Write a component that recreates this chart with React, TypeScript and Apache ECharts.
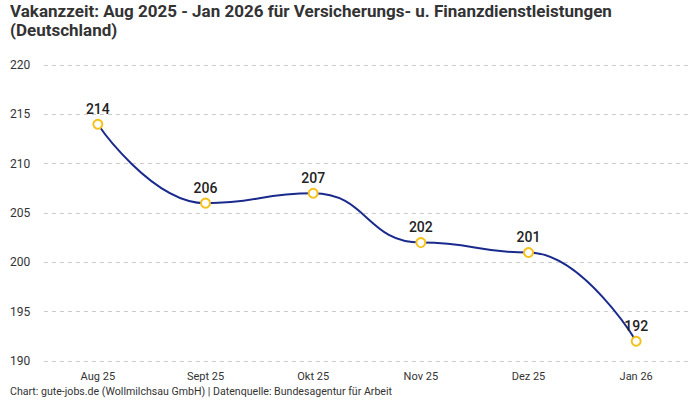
import React, { useEffect, useRef } from "react";
import * as echarts from "echarts";

const FONT = "Roboto, 'Noto Sans', sans-serif";

const categories = ["Aug 25", "Sept 25", "Okt 25", "Nov 25", "Dez 25", "Jan 26"];
const vacancyDays = [214, 206, 207, 202, 201, 192];
const yMin = 190;
const yMax = 220;
const yStep = 5;

const titleText =
  "Vakanzzeit: Aug 2025 - Jan 2026 für Versicherungs- u. Finanzdienstleistungen\n(Deutschland)";
const sourceText =
  "Chart: gute-jobs.de (Wollmilchsau GmbH) | Datenquelle: Bundesagentur für Arbeit";

const App = () => {
  const chartRef = useRef<HTMLDivElement>(null);

  useEffect(() => {
    document.body.style.margin = "0";
    const chart = echarts.init(chartRef.current, null, { renderer: "svg" });

    chart.setOption({
      animation: false,
      textStyle: { fontFamily: FONT },
      title: {
        text: titleText,
        left: 5,
        top: -4,
        textStyle: {
          fontFamily: FONT,
          fontSize: 17,
          fontWeight: "bold",
          color: "#333",
          lineHeight: 19,
        },
      },
      graphic: [
        {
          type: "text",
          left: 10,
          bottom: 3,
          style: {
            text: sourceText,
            fontFamily: FONT,
            fontSize: 10.6,
            fill: "#333",
          },
        },
      ],
      grid: { left: 44, right: 10, top: 65, bottom: 39 },
      xAxis: {
        type: "category",
        data: categories,
        boundaryGap: true,
        axisLine: { show: false },
        axisTick: { show: false },
        axisLabel: { color: "#333", fontSize: 11, margin: 10, fontFamily: FONT },
      },
      yAxis: {
        type: "value",
        min: yMin,
        max: yMax,
        interval: yStep,
        axisLine: { show: false },
        axisTick: { show: false },
        axisLabel: {
          color: "#333",
          fontSize: 12,
          align: "left",
          margin: 34,
          fontFamily: FONT,
        },
        splitLine: {
          lineStyle: { color: "#ccc", type: [4, 4], width: 1 },
        },
      },
      series: [
        {
          type: "line",
          data: vacancyDays,
          smooth: 0.5,
          smoothMonotone: "x",
          symbol: "circle",
          symbolSize: 9,
          lineStyle: { color: "#1a2a8c", width: 2 },
          itemStyle: { color: "#fff", borderColor: "#f5c21b", borderWidth: 2 },
          label: {
            show: true,
            position: "top",
            distance: 3,
            fontSize: 14,
            fontWeight: 500,
            color: "#222",
            fontFamily: FONT,
          },
        },
      ],
    });

    return () => {
      chart.dispose();
    };
  }, []);

  return <div ref={chartRef} style={{ width: 700, height: 400 }} />;
};

export default App;
